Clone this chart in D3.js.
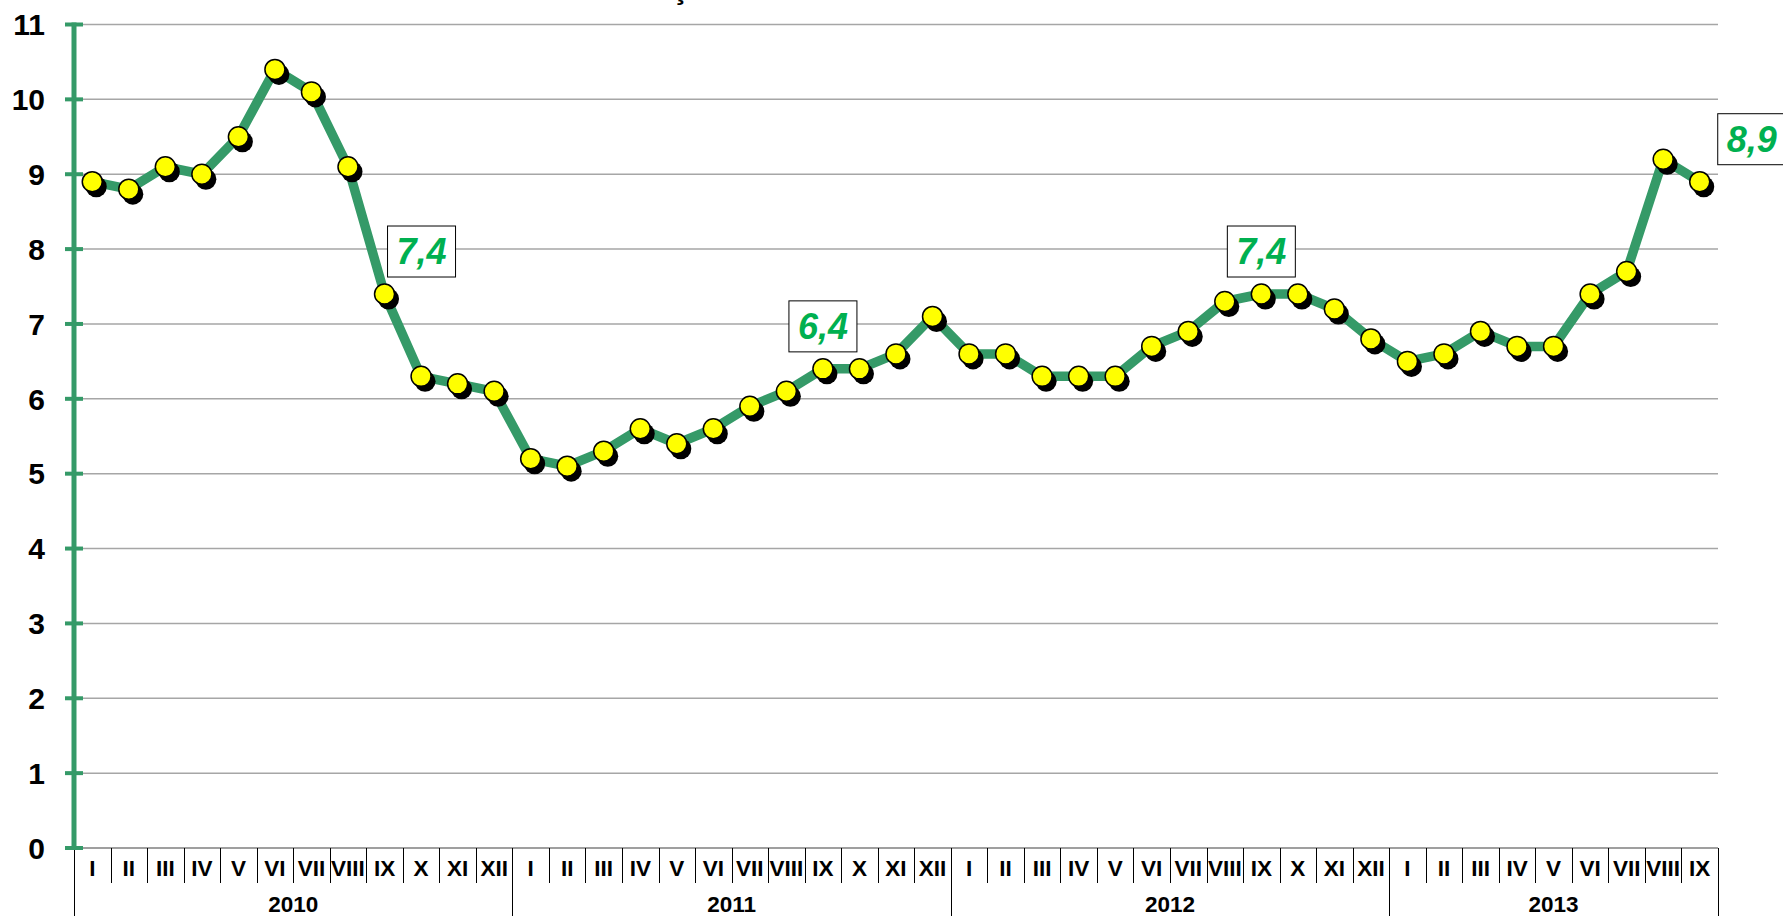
<!DOCTYPE html>
<html>
<head>
<meta charset="utf-8">
<script src="https://cdn.jsdelivr.net/npm/d3@7"></script>
<style>
  html, body { margin: 0; padding: 0; background: #ffffff; overflow: hidden; }
  svg { display: block; }
  text { font-family: "Liberation Sans", Arial, sans-serif; }
</style>
</head>
<body>
<script>
// ---- data ----
const years = ["2010", "2011", "2012", "2013"];
const monthLabels = ["I", "II", "III", "IV", "V", "VI", "VII", "VIII", "IX", "X", "XI", "XII"];
const values2010 = [8.9, 8.8, 9.1, 9.0, 9.5, 10.4, 10.1, 9.1, 7.4, 6.3, 6.2, 6.1];
const values2011 = [5.2, 5.1, 5.3, 5.6, 5.4, 5.6, 5.9, 6.1, 6.4, 6.4, 6.6, 7.1];
const values2012 = [6.6, 6.6, 6.3, 6.3, 6.3, 6.7, 6.9, 7.3, 7.4, 7.4, 7.2, 6.8];
const values2013 = [6.5, 6.6, 6.9, 6.7, 6.7, 7.4, 7.7, 9.2, 8.9];
const yTicks = [0, 1, 2, 3, 4, 5, 6, 7, 8, 9, 10, 11];
const labelled = [ // [year, month] of the boxed value labels
  ["2010", "IX"], ["2011", "IX"], ["2012", "IX"], ["2013", "IX"]
];

(function () {
// ---- build series ----
const seriesByYear = [values2010, values2011, values2012, values2013];
const points = [];
years.forEach((yr, yi) => {
  seriesByYear[yi].forEach((v, mi) => {
    points.push({ key: yr + "-" + mi, year: yr, month: monthLabels[mi], value: v });
  });
});

// ---- layout ----
const W = 1783, H = 916;
const mLeft = 74, mRight = 1718, mTop = 24.5, mBottom = 848;
const GREEN = "#359a68";
const LABEL_GREEN = "#00b050";

const svg = d3.select("body").append("svg").attr("width", W).attr("height", H);

const x = d3.scaleBand().domain(points.map(d => d.key)).range([mLeft, mRight]).padding(0);
const y = d3.scaleLinear().domain([0, 11]).range([mBottom, mTop]);
const cx = d => x(d.key) + x.bandwidth() / 2;

// partial (cut off) title remnant at the top, as in the source picture
svg.append("text").attr("x", 679).attr("y", -1)
  .attr("text-anchor", "middle").attr("font-size", 30).attr("font-weight", "bold")
  .attr("fill", "#000").text("ţ");

// gridlines
svg.append("g").selectAll("line").data(yTicks.filter(t => t > 0)).join("line")
  .attr("x1", mLeft).attr("x2", mRight)
  .attr("y1", d => y(d)).attr("y2", d => y(d))
  .attr("stroke", "#a6a6a6").attr("stroke-width", 1.5);

// x axis baseline
svg.append("line").attr("x1", mLeft).attr("x2", mRight)
  .attr("y1", y(0)).attr("y2", y(0)).attr("stroke", "#7f7f7f").attr("stroke-width", 1.5);

// category cell separators
const boundaries = d3.range(points.length + 1);
const yearStarts = new Set();
{
  let acc = 0;
  seriesByYear.forEach(s => { yearStarts.add(acc); acc += s.length; });
  yearStarts.add(acc);
}
const bx = i => i < points.length ? x(points[i].key) : mRight;
svg.append("g").selectAll("line").data(boundaries).join("line")
  .attr("x1", i => Math.round(bx(i)) + 0.5).attr("x2", i => Math.round(bx(i)) + 0.5)
  .attr("y1", y(0)).attr("y2", i => yearStarts.has(i) ? H + 2 : 883)
  .attr("stroke", "#000").attr("stroke-width", 1);

// month labels
svg.append("g").selectAll("text").data(points).join("text")
  .attr("x", d => cx(d)).attr("y", 876)
  .attr("text-anchor", "middle").attr("font-size", 22.5).attr("font-weight", "bold")
  .attr("fill", "#000").text(d => d.month);

// year labels
{
  let acc = 0;
  const yrs = years.map((yr, yi) => {
    const s = acc, e = acc + seriesByYear[yi].length; acc = e;
    return { yr, s, e };
  });
  svg.append("g").selectAll("text").data(yrs).join("text")
    .attr("x", d => (bx(d.s) + bx(d.e)) / 2).attr("y", 912)
    .attr("text-anchor", "middle").attr("font-size", 22.5).attr("font-weight", "bold")
    .attr("fill", "#000").text(d => d.yr);
}

// y axis (green)
svg.append("line").attr("x1", mLeft).attr("x2", mLeft)
  .attr("y1", y(11) - 2).attr("y2", y(0) + 2)
  .attr("stroke", GREEN).attr("stroke-width", 5);
svg.append("g").selectAll("line").data(yTicks).join("line")
  .attr("x1", 65).attr("x2", 83)
  .attr("y1", d => y(d)).attr("y2", d => y(d))
  .attr("stroke", GREEN).attr("stroke-width", 4);
svg.append("g").selectAll("text").data(yTicks).join("text")
  .attr("x", 45).attr("y", d => y(d))
  .attr("dy", "0.36em")
  .attr("text-anchor", "end").attr("font-size", 30).attr("font-weight", "bold")
  .attr("fill", "#000").text(d => d);

// line
const line = d3.line().x(d => cx(d)).y(d => y(d.value));
svg.append("path").datum(points).attr("d", line)
  .attr("fill", "none").attr("stroke", GREEN).attr("stroke-width", 9.5)
  .attr("stroke-linejoin", "round");

// marker shadows
svg.append("g").selectAll("circle").data(points).join("circle")
  .attr("cx", d => cx(d) + 4).attr("cy", d => y(d.value) + 5).attr("r", 10.5)
  .attr("fill", "#000");
// markers
svg.append("g").selectAll("circle").data(points).join("circle")
  .attr("cx", d => cx(d)).attr("cy", d => y(d.value)).attr("r", 10)
  .attr("fill", "#ffff00").attr("stroke", "#000").attr("stroke-width", 1.5);

// boxed value labels
const boxW = 68, boxH = 51;
const boxShift = { "2010": 37, "2011": 0, "2012": 0, "2013": 52 }; // horizontal offset of box centre from point
const lbls = labelled.map(([yr, m]) => points.find(p => p.year === yr && p.month === m));
const lg = svg.append("g").selectAll("g").data(lbls).join("g")
  .attr("transform", d => {
    const px = cx(d) + boxShift[d.year];
    const py = y(d.value) - 17 - boxH;
    return `translate(${px - boxW / 2},${py})`;
  });
lg.append("rect").attr("width", boxW).attr("height", boxH)
  .attr("fill", "#fff").attr("stroke", "#000").attr("stroke-width", 1);
lg.append("text").attr("x", boxW / 2).attr("y", boxH / 2).attr("dy", "0.36em")
  .attr("text-anchor", "middle").attr("font-size", 36).attr("font-weight", "bold")
  .attr("font-style", "italic").attr("fill", LABEL_GREEN)
  .text(d => d3.format(".1f")(d.value).replace(".", ","));
})();
</script>
</body>
</html>
